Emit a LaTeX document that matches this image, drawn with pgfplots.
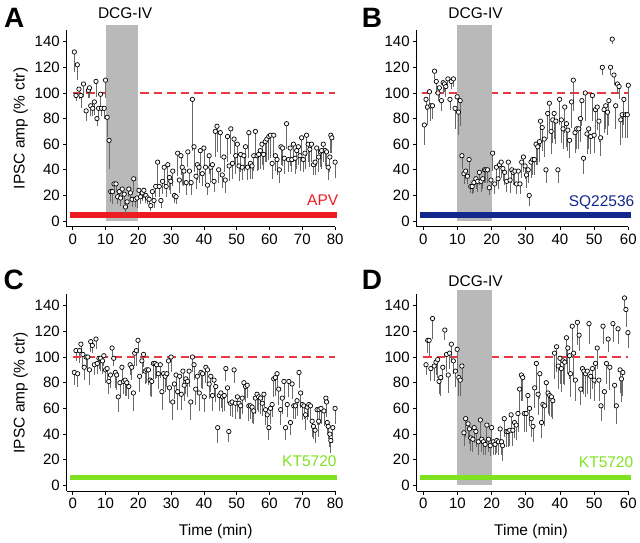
\documentclass[border=0pt]{standalone}
\usepackage{pgfplots}
\usepackage{pgfplotstable}
\pgfplotsset{compat=1.18}
\usepackage{fontspec}
\setmainfont{Liberation Sans}

\definecolor{apvred}{RGB}{236,28,36}
\definecolor{sqblue}{RGB}{18,40,140}
\definecolor{ktgreen}{RGB}{126,226,30}
\definecolor{refline}{RGB}{232,56,66}
\definecolor{shade}{RGB}{185,185,185}
\definecolor{bargray}{RGB}{105,105,105}

% time (min), amplitude (% ctr), lower error
\pgfplotstableread{
x y e
0.5 132 16
1.0 98 4
1.4 122 12
1.9 103 8
2.5 98 10
3.3 107 10
4.1 86 8
4.8 102 6
5.1 104 8
5.5 90 8
6.1 88 6
6.6 93 10
7.1 109 12
7.4 80 6
7.9 88 8
8.5 99 10
8.8 88 6
9.6 88 8
10.0 110 14
10.5 81 15
11.1 63 22
11.6 23 8
12.1 23 10
12.6 29 8
13.2 29 6
13.7 19 6
14.2 23 6
14.6 18 6
15.1 25 8
15.7 21 8
16.1 11 6
16.6 15 5
17.1 25 6
17.6 22 6
18.1 17 6
18.6 33 10
19.1 17 6
19.6 18 8
20.2 24 6
20.7 19 6
21.2 22 6
21.7 24 6
22.3 20 6
22.8 18 5
23.3 17 5
23.8 12 4
24.3 23 6
24.8 16 6
25.3 27 8
25.9 46 18
26.4 27 8
26.9 16 6
27.4 31 10
27.9 42 14
28.5 27 8
29.0 44 15
29.5 34 10
29.9 31 10
30.5 39 12
31.0 20 6
31.5 19 6
32.0 53 18
32.5 32 10
33.0 51 15
33.4 42 14
33.9 39 12
34.6 30 10
35.1 54 12
35.6 39 12
36.1 30 10
36.5 95 40
37.0 58 20
37.6 35 10
38.0 44 12
38.5 42 12
38.9 55 15
39.5 37 10
40.0 57 14
40.5 42 12
41.1 28 8
41.6 51 14
42.1 42 12
42.6 44 12
43.1 31 8
43.5 70 20
44.0 74 20
44.5 40 10
45.0 69 20
45.6 36 10
46.1 50 12
46.5 32 10
47.2 66 20
47.7 43 12
48.2 72 20
48.7 45 12
49.2 64 18
49.7 51 14
50.2 60 16
50.7 43 12
51.2 52 14
51.7 42 10
52.2 51 12
52.7 58 16
53.3 42 10
53.7 69 20
54.2 45 12
54.7 43 10
55.2 51 12
55.7 70 20
56.2 51 12
56.7 52 12
57.2 55 14
57.7 60 16
58.2 52 12
58.7 62 16
59.2 64 18
59.8 66 18
60.3 67 18
60.8 45 12
61.3 67 16
61.8 51 12
62.3 48 12
63.0 40 10
63.5 58 14
64.0 57 14
64.5 49 12
65.2 76 20
65.8 48 10
66.3 57 14
66.8 48 10
67.3 60 14
67.8 49 12
68.3 55 14
68.8 58 14
69.3 51 12
69.8 65 16
70.3 48 10
70.8 53 12
71.3 67 16
71.8 60 14
72.3 56 14
72.8 60 14
73.4 44 8
73.9 46 10
74.4 57 14
75.0 50 12
75.5 54 12
75.9 55 14
76.4 60 14
77.0 55 12
77.4 54 12
77.9 42 10
78.4 50 12
78.7 67 14
79.0 65 12
80.0 46 12
}\dataA

\pgfplotstableread{
x y e
0.3 75 16
0.8 95 8
1.2 89 14
1.8 101 10
2.2 90 12
2.7 90 10
3.3 117 6
3.8 109 8
4.3 100 6
4.7 104 8
5.3 94 8
5.8 108 8
6.2 107 6
6.6 105 8
7.2 111 6
7.8 95 8
8.2 109 6
8.8 111 6
9.3 88 16
9.9 97 12
10.3 85 18
10.8 94 20
11.3 51 10
11.9 37 8
12.4 39 6
12.9 35 6
13.4 48 12
13.9 27 5
14.3 27 6
14.8 30 8
15.4 33 8
15.9 31 8
16.4 38 10
16.9 31 8
17.4 33 8
17.9 40 10
18.3 40 10
18.8 40 10
19.3 26 6
19.8 32 8
20.3 53 14
20.9 29 8
21.4 42 12
21.9 33 8
22.3 44 12
22.8 46 12
23.3 41 10
23.8 38 10
24.4 31 8
24.9 46 14
25.4 32 10
25.9 40 10
26.3 38 10
26.8 39 10
27.3 29 8
27.8 39 10
28.3 29 8
28.8 46 12
29.3 50 12
29.8 43 10
30.2 36 10
30.7 40 10
31.0 20 8
31.5 46 12
32.0 48 12
32.5 48 12
33.0 60 16
33.5 58 14
34.0 62 16
34.3 78 20
34.8 73 18
35.4 64 14
35.9 40 10
36.4 84 20
36.9 92 20
37.4 70 18
37.9 79 18
38.3 84 20
38.8 78 18
39.4 40 10
39.9 95 20
40.4 79 18
40.9 72 16
41.4 89 20
41.9 76 18
42.3 71 16
42.8 63 14
43.4 93 20
43.9 110 24
44.4 69 16
44.9 72 16
45.5 72 16
46.0 80 18
46.4 94 20
46.9 49 12
47.4 100 22
47.9 68 16
48.4 72 16
49.0 66 14
49.5 98 20
50.0 67 14
50.4 87 18
50.9 89 18
51.4 78 16
51.9 65 14
52.4 120 6
52.9 87 18
53.4 90 18
53.9 85 18
54.3 94 20
54.8 120 6
55.3 142 4
55.8 114 8
56.3 90 18
56.8 107 8
57.3 105 10
57.8 79 20
58.2 83 18
58.7 95 20
59.2 83 18
59.7 83 18
60.0 106 22
}\dataB

\pgfplotstableread{
x y e
0.5 88 10
1.0 105 8
1.5 87 10
2.1 105 10
2.5 110 8
3.1 102 10
3.5 92 10
4.1 100 8
4.6 100 10
5.1 90 12
5.5 112 8
6.0 109 6
6.6 94 8
7.1 114 8
7.5 95 8
8.0 99 8
8.5 99 10
9.1 97 10
9.5 101 8
10.0 90 10
10.5 91 10
11.0 81 10
11.5 86 10
12.0 107 8
12.5 99 6
13.0 88 12
13.4 86 12
13.9 69 12
14.4 80 10
15.0 92 10
15.5 81 10
16.0 82 12
16.5 80 10
17.1 77 10
17.5 94 8
18.0 92 10
18.5 72 14
18.9 103 10
19.4 105 12
19.9 113 10
20.4 85 12
21.1 97 10
21.6 102 10
22.1 89 10
22.6 90 10
23.1 90 12
23.6 82 12
24.1 81 12
24.6 95 12
25.1 95 12
25.6 94 10
26.1 87 12
26.7 94 10
27.2 73 14
27.7 87 12
28.2 85 12
28.7 87 10
29.2 97 12
29.5 76 12
30.0 100 12
30.5 65 14
31.0 79 12
31.5 86 12
32.0 73 14
32.6 85 12
33.1 71 12
33.6 89 12
34.0 78 12
34.5 83 12
35.0 81 12
35.5 89 12
36.0 65 14
36.5 100 12
37.0 94 12
37.5 75 12
38.0 85 12
38.6 72 14
39.1 88 12
39.6 87 12
40.1 69 12
40.6 92 12
41.1 90 12
41.6 79 12
42.1 85 12
42.6 70 12
43.1 82 12
43.6 77 12
44.2 45 12
44.7 70 12
45.2 72 12
45.7 69 12
46.2 70 12
46.7 91 10
47.2 76 12
47.6 42 8
48.1 64 10
48.6 65 12
49.2 90 10
49.6 64 12
50.2 69 12
50.7 64 12
51.2 62 10
51.7 68 12
52.2 80 12
52.7 77 12
53.2 78 10
53.7 62 12
54.2 62 10
54.7 61 12
55.2 58 10
55.7 68 12
56.2 71 12
56.7 69 12
57.3 68 12
57.8 64 10
58.3 71 10
58.8 59 12
59.3 55 12
59.8 45 10
60.3 60 12
60.8 63 10
61.3 83 14
61.8 84 14
62.3 87 12
62.8 75 12
63.4 59 12
63.9 68 12
64.4 81 14
64.9 45 10
65.4 63 10
65.9 81 12
66.4 49 10
66.9 79 12
67.4 62 10
67.9 62 10
68.4 66 12
69.0 88 12
69.5 72 12
70.0 63 12
70.5 62 10
71.0 55 12
71.5 61 10
72.0 63 10
72.5 62 10
73.0 50 12
73.4 46 10
73.9 43 10
74.5 59 12
75.0 50 12
75.1 59 12
75.7 60 12
76.6 58 12
77.2 68 12
77.4 65 12
77.6 49 10
77.9 46 10
78.4 40 10
78.7 35 10
79.3 45 12
80.0 60 12
}\dataC

\pgfplotstableread{
x y e
0.8 94 8
1.3 113 10
1.7 113 12
2.2 91 10
2.7 130 16
3.2 93 12
3.7 96 10
4.2 98 14
4.6 81 10
5.1 84 14
5.7 92 10
6.3 121 8
6.8 102 14
7.3 86 14
7.7 103 12
8.2 110 12
8.8 97 10
9.4 89 12
9.9 106 16
10.4 84 14
10.8 82 12
11.3 93 12
11.9 41 10
12.4 52 14
13.1 48 12
13.5 44 12
13.9 37 10
14.5 36 10
14.9 45 12
15.4 42 12
16.1 34 10
16.7 51 14
17.1 36 10
17.6 34 10
18.1 32 8
18.6 47 14
19.1 36 10
19.6 31 8
20.0 45 12
20.5 34 10
21.0 32 8
21.5 35 10
22.0 34 10
22.5 44 12
22.9 34 10
23.2 31 12
23.7 52 14
24.3 42 12
24.8 42 12
25.3 43 12
25.7 55 14
26.2 43 12
26.7 49 12
27.2 47 12
27.7 56 14
28.2 75 18
28.7 86 20
29.1 84 18
29.6 56 14
30.1 56 14
30.6 70 16
31.1 60 14
31.6 52 14
32.1 46 12
32.6 76 16
33.1 95 20
33.6 71 16
34.1 87 20
34.6 49 12
35.0 63 16
35.5 62 16
36.0 80 18
36.5 72 16
37.0 70 16
37.5 69 16
37.9 66 14
38.4 103 20
39.0 108 20
39.5 93 18
40.0 99 20
40.4 91 18
40.9 97 18
41.4 96 18
41.9 115 20
42.3 107 20
42.8 101 18
43.1 87 18
43.6 124 20
44.0 103 20
44.5 82 16
45.1 127 18
45.6 117 12
46.1 75 12
46.6 91 18
47.0 89 18
47.5 87 18
48.0 89 18
48.5 126 16
49.0 85 18
49.5 91 16
50.0 82 16
50.4 95 16
50.9 107 16
51.4 82 16
52.0 62 12
52.6 124 14
53.0 73 14
53.6 95 16
54.1 114 10
54.6 92 18
55.5 126 14
56.0 78 18
56.5 62 14
57.0 122 12
57.6 90 18
58.0 83 18
58.4 88 18
58.9 146 10
59.3 137 14
59.9 119 12
}\dataD

\pgfplotsset{
  panel/.style={
    scale only axis,
    anchor=south west,
    clip=false,
    axis x line*=bottom,
    axis y line*=left,
    axis line style={-, line width=0.8pt},
    tick align=outside,
    major tick length=3.5pt,
    tick style={line width=0.8pt, black},
    ymin=-4.4, ymax=149,
    ytick={0,20,...,140},
    /pgf/number format/assume math mode=true,
    ticklabel style={font=\fontsize{15}{17}\selectfont},
    label style={font=\fontsize{15.5}{18}\selectfont},
    xtick pos=bottom, ytick pos=left,
  },
  refdash/.style={draw=refline, line width=1.2pt, dash pattern=on 8.5pt off 5pt},
  dots/.style={
    only marks, mark=*, mark size=2.2pt,
    mark options={fill=white, draw=black, line width=0.7pt},
    error bars/.cd, y dir=minus, y explicit,
    error mark=none,
    error bar style={bargray, line width=0.8pt},
  },
}

\begin{document}
\begin{tikzpicture}
\path[use as bounding box] (0pt,0pt) rectangle (640pt,543pt);

% A
\begin{axis}[panel, at={(66.8pt,316.3pt)}, width=268.3pt, height=196.5pt,
  xmin=-1.8, xmax=80, xtick={0,10,...,80},
  ylabel={IPSC amp (\%\,\,ctr)}]
\addplot[refdash] coordinates {(0,100) (80,100)};
\addplot[fill=shade, draw=none] coordinates {(10,0) (10,153) (20,153) (20,0)} -- cycle;
\addplot[apvred, line width=5.7pt] coordinates {(-0.7,5) (80.5,5)};
\addplot[dots] table[x=x, y=y, y error=e] {\dataA};
\node[font=\fontsize{15.5}{18}\selectfont] at (axis cs:16,162) {DCG-IV};
\node[anchor=base east, apvred, font=\fontsize{15.5}{18}\selectfont, inner sep=0pt] at (axis cs:81,12.5) {APV};
\end{axis}

% B
\begin{axis}[panel, at={(416.7pt,316.3pt)}, width=211.6pt, height=196.5pt,
  xmin=-1.93, xmax=60, xtick={0,10,...,60}]
\addplot[refdash] coordinates {(-0.5,100) (60,100)};
\addplot[fill=shade, draw=none] coordinates {(10,0) (10,153) (20,153) (20,0)} -- cycle;
\addplot[sqblue, line width=5.7pt] coordinates {(-1,5) (60.7,5)};
\addplot[dots] table[x=x, y=y, y error=e] {\dataB};
\node[font=\fontsize{15.5}{18}\selectfont] at (axis cs:15.3,162) {DCG-IV};
\node[anchor=base east, sqblue, font=\fontsize{15.5}{18}\selectfont, inner sep=0pt] at (axis cs:61.8,11.7) {SQ22536};
\end{axis}

% C
\begin{axis}[panel, at={(66.8pt,51.9pt)}, width=268.3pt, height=197pt,
  xmin=-1.8, xmax=80, xtick={0,10,...,80},
  ylabel={IPSC amp (\%\,\,ctr)}, xlabel={Time (min)},
  x label style={at={(ticklabel cs:0.555)}, anchor=near ticklabel, yshift=-9pt}]
\addplot[ktgreen, line width=5.2pt] coordinates {(-0.7,6) (80.5,6)};
\addplot[dots] table[x=x, y=y, y error=e] {\dataC};
\addplot[refdash] coordinates {(0,100) (80,100)};
\node[anchor=base east, ktgreen, font=\fontsize{15.5}{18}\selectfont, inner sep=0pt] at (axis cs:80.5,15) {KT5720};
\end{axis}

% D
\begin{axis}[panel, at={(416.7pt,51.9pt)}, width=211.6pt, height=197pt,
  xmin=-1.93, xmax=60, xtick={0,10,...,60}, xlabel={Time (min)},
  x label style={at={(ticklabel cs:0.54)}, anchor=near ticklabel, yshift=-9pt}]
\addplot[refdash] coordinates {(0,100) (60,100)};
\addplot[fill=shade, draw=none] coordinates {(10,0) (10,152) (20,152) (20,0)} -- cycle;
\addplot[ktgreen, line width=5.2pt] coordinates {(-1,6) (60.7,6)};
\addplot[dots] table[x=x, y=y, y error=e] {\dataD};
\node[font=\fontsize{15.5}{18}\selectfont] at (axis cs:15.3,159) {DCG-IV};
\node[anchor=base east, ktgreen, font=\fontsize{15.5}{18}\selectfont, inner sep=0pt] at (axis cs:61.5,14.3) {KT5720};
\end{axis}

\node[anchor=north west, inner sep=0pt, font=\fontsize{28}{30}\bfseries] at (4pt,535pt) {A};
\node[anchor=north west, inner sep=0pt, font=\fontsize{28}{30}\bfseries] at (361.7pt,535pt) {B};
\node[anchor=north west, inner sep=0pt, font=\fontsize{28}{30}\bfseries] at (3.3pt,273pt) {C};
\node[anchor=north west, inner sep=0pt, font=\fontsize{28}{30}\bfseries] at (361.7pt,273pt) {D};
\end{tikzpicture}
\end{document}
